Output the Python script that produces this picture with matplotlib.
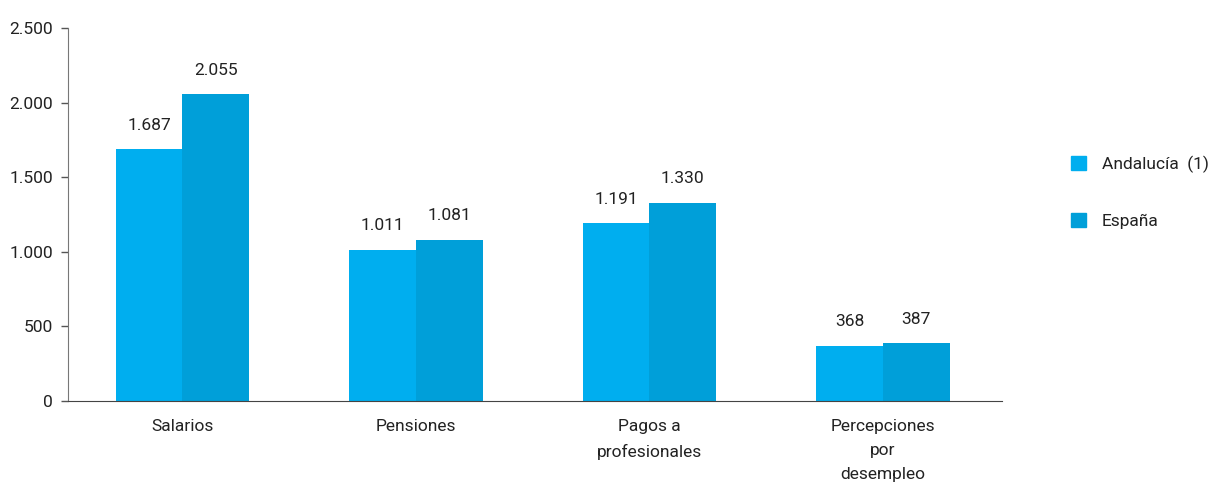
import matplotlib.pyplot as plt
import numpy as np
from matplotlib.patches import Patch

plt.rcParams['font.family'] = ['Roboto', 'DejaVu Sans']

categories = ['Salarios', 'Pensiones', 'Pagos a\nprofesionales', 'Percepciones\npor\ndesempleo']
andalucia = [1687, 1011, 1191, 368]
espana = [2055, 1081, 1330, 387]
series_names = ['Andalucía  (1)', 'España']
colors = ['#00AEEF', '#009FD9']

fig = plt.figure(figsize=(12.14, 4.86), dpi=100)
ax = fig.add_axes([68 / 1214, 1 - 401 / 486, (1002 - 68) / 1214, (401 - 28) / 486])

x = np.arange(len(categories))
w = 0.286
b1 = ax.bar(x - w / 2, andalucia, w, color=colors[0])
b2 = ax.bar(x + w / 2, espana, w, color=colors[1])

def fmt(v):
    return f"{v:,}".replace(',', '.')

for bars, vals in ((b1, andalucia), (b2, espana)):
    for b, v in zip(bars, vals):
        ax.annotate(fmt(v), (b.get_x() + b.get_width() / 2, v),
                    xytext=(0, 12), textcoords='offset points',
                    ha='center', va='bottom', fontsize=12.5, color='#222222')

ax.set_xlim(-0.49, 3.51)
ax.set_ylim(0, 2500)
ax.set_yticks(range(0, 2501, 500))
ax.set_yticklabels([fmt(v) for v in range(0, 2501, 500)])
ax.set_xticks(x)
ax.set_xticklabels(categories, linespacing=1.75)
ax.tick_params(axis='y', length=5, width=1, color='#555555', labelsize=12.5, labelcolor='#222222', pad=6)
ax.tick_params(axis='x', length=0, labelsize=12.5, labelcolor='#222222', pad=13)
for s in ('top', 'right'):
    ax.spines[s].set_visible(False)
ax.spines['left'].set_color('#777777')
ax.spines['bottom'].set_color('#444444')

handles = [Patch(color=c) for c in colors]
fig.legend(handles, series_names, loc='upper left', bbox_to_anchor=(1055 / 1214, 1 - 140 / 486),
           frameon=False, fontsize=12.5, handlelength=0.9, handleheight=0.9,
           labelspacing=2.3, handletextpad=0.9, labelcolor='#222222')

fig.savefig('out.png', dpi=100)
